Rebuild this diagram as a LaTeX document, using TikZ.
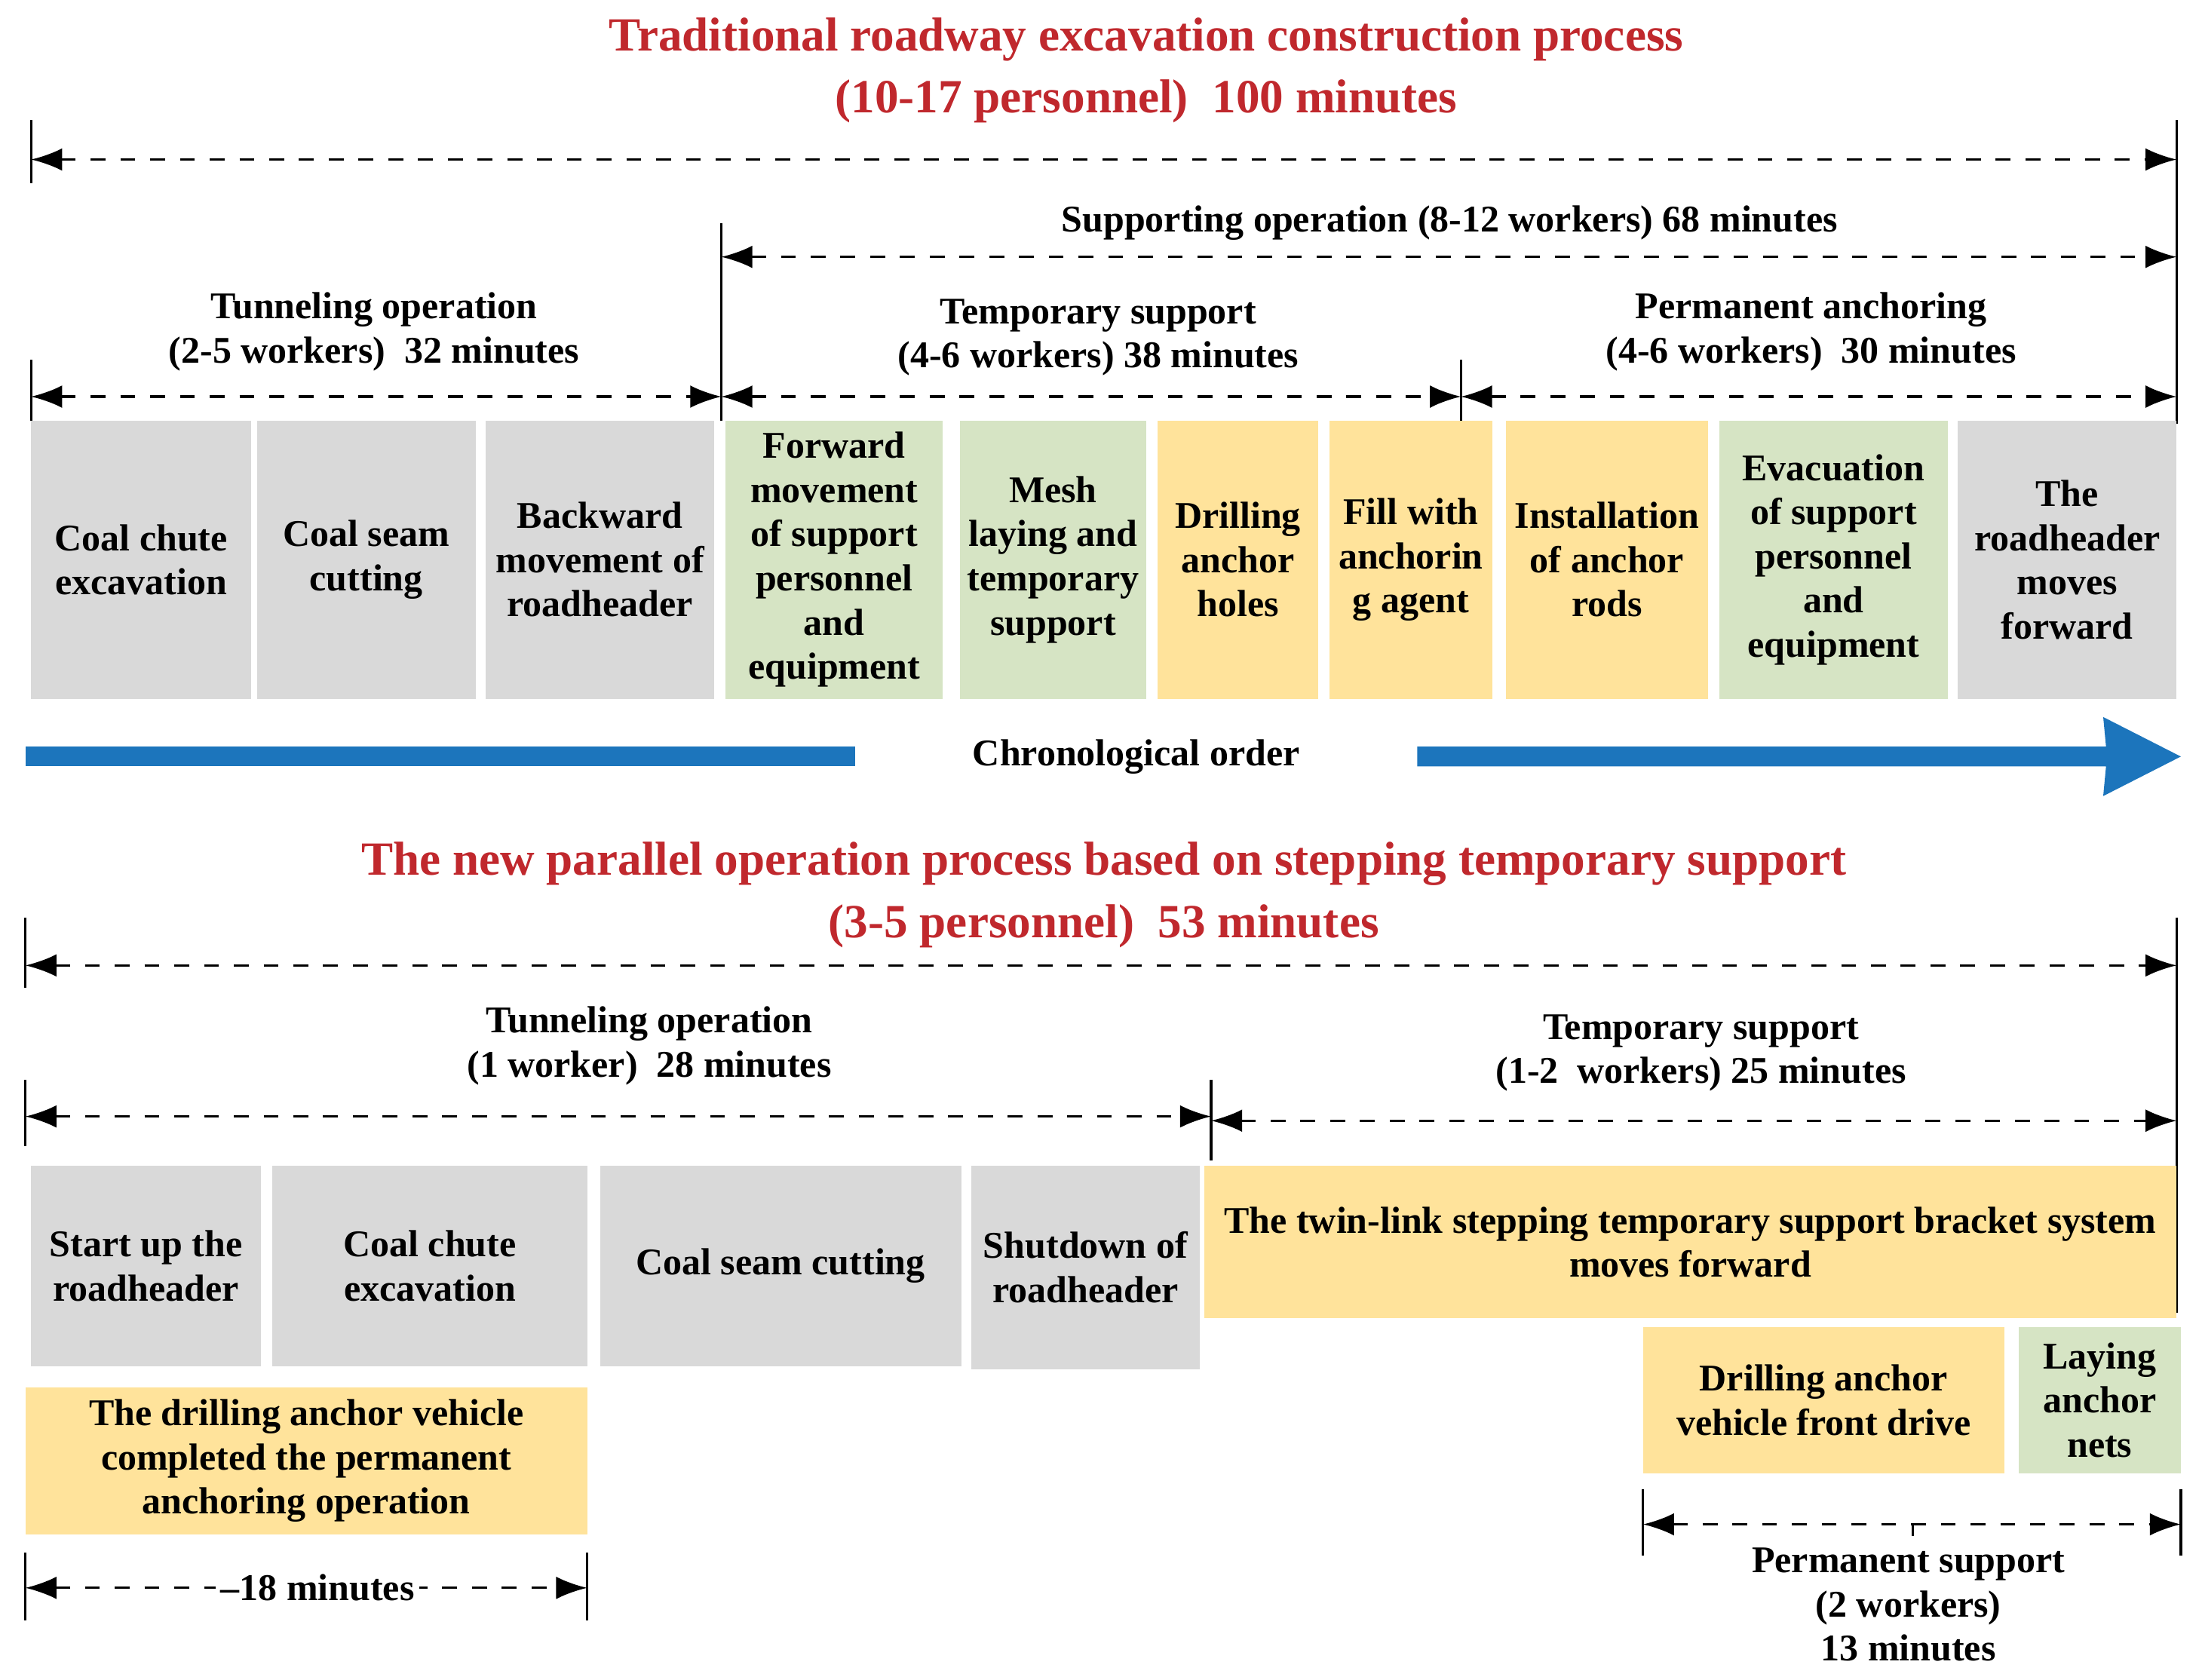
\documentclass[tikz,border=0pt]{standalone}
\usepackage{fontspec}
\setmainfont{Liberation Serif}
\usetikzlibrary{arrows.meta}
\definecolor{gr}{HTML}{D9D9D9}
\definecolor{gn}{HTML}{D6E4C4}
\definecolor{ye}{HTML}{FFE39B}
\definecolor{tr}{HTML}{C0282D}
\definecolor{bl}{HTML}{1C75BC}
\begin{document}
\begin{tikzpicture}[x=0.1mm,y=-0.1mm,
 txt/.style={font=\bfseries\fontsize{7.6}{8.9}\selectfont,align=center,inner sep=0},
 ttl/.style={font=\bfseries\fontsize{9.6}{11.5}\selectfont,align=center,text=tr,inner sep=0},
 box/.style={txt},
 dim/.style={dashed,line width=0.5pt,{Latex[length=2.2mm,width=1.6mm]}-{Latex[length=2.2mm,width=1.6mm]}},
 tick/.style={line width=0.5pt}]
\useasboundingbox (0,0) rectangle (1560,1190);
\newcommand{\bx}[6]{\fill[#5] (#1,#2) rectangle (#3,#4); \node[box] at ({(#1+#3)/2},{(#2+#4)/2}) {#6};}
% titles
\node[ttl] (t1) at (812,50) {Traditional roadway excavation construction process\\[1pt](10-17 personnel)\ \ 100 minutes};
% top arrow
\coordinate (a1) at (22,113); \coordinate (a2) at (1542,113);
\draw[dim] (a1) -- (a2);
\draw[tick] (22,85) -- (22,130); \draw[tick] (1542,85) -- (1542,300);
\node[txt] (so) at (1027,158) {Supporting operation (8-12 workers) 68 minutes};
\coordinate (s1) at (511,182); \coordinate (s2) at (1542,182);
\draw[dim] (s1) -- (s2);
\draw[tick] (511,158) -- (511,298);
\node[txt] (to) at (265,235) {Tunneling operation\\(2-5 workers)\ \ 32 minutes};
\node[txt] (ts) at (778,239) {Temporary support\\(4-6 workers) 38 minutes};
\node[txt] (pa) at (1283,235) {Permanent anchoring\\(4-6 workers)\ \ 30 minutes};
\coordinate (b1) at (22,281); \coordinate (b2) at (511,281); \coordinate (b3) at (1035,281); \coordinate (b4) at (1542,281);
\draw[dim] (b1) -- (b2); \draw[dim] (b2) -- (b3); \draw[dim] (b3) -- (b4);
\draw[tick] (22,255) -- (22,298); \draw[tick] (1035,255) -- (1035,298);
% boxes row 1
\bx{22}{298}{178}{495}{gr}{Coal chute\\excavation}
\bx{182}{298}{337}{495}{gr}{Coal seam\\cutting}
\bx{344}{298}{506}{495}{gr}{Backward\\movement of\\roadheader}
\bx{514}{298}{668}{495}{gn}{Forward\\movement\\of support\\personnel\\and\\equipment}
\bx{680}{298}{812}{495}{gn}{Mesh\\laying and\\temporary\\support}
\bx{820}{298}{934}{495}{ye}{Drilling\\anchor\\holes}
\bx{942}{298}{1057}{495}{ye}{Fill with\\anchorin\\g agent}
\bx{1067}{298}{1210}{495}{ye}{Installation\\of anchor\\rods}
\bx{1218}{298}{1380}{495}{gn}{Evacuation\\of support\\personnel\\and\\equipment}
\bx{1387}{298}{1542}{495}{gr}{The\\roadheader\\moves\\forward}
% chronological arrow
\fill[bl] (18,529) rectangle (606,543);
\fill[bl] (1004,529) -- (1492,529) -- (1490,508) -- (1545,536) -- (1490,564) -- (1492,543) -- (1004,543) -- cycle;
\node[txt] (co) at (805,536) {Chronological order};
% second title
\node[ttl] (t2) at (782,634) {The new parallel operation process based on stepping temporary support\\[1pt](3-5 personnel)\ \ 53 minutes};
\coordinate (c1) at (18,684); \coordinate (c2) at (1542,684);
\draw[dim] (c1) -- (c2);
\draw[tick] (18,650) -- (18,700); \draw[tick] (1542,650) -- (1542,930);
\node[txt] (to2) at (460,741) {Tunneling operation\\(1 worker)\ \ 28 minutes};
\node[txt] (ts2) at (1205,746) {Temporary support\\(1-2\ \ workers) 25 minutes};
\coordinate (d1) at (18,791); \coordinate (d2) at (858,791); \coordinate (d3) at (1542,794);
\draw[dim] (d1) -- (d2); \draw[dim] (858,794) -- (d3);
\draw[tick] (18,765) -- (18,812); \draw[tick] (858,765) -- (858,822);
\bx{22}{826}{185}{968}{gr}{Start up the\\roadheader}
\bx{193}{826}{416}{968}{gr}{Coal chute\\excavation}
\bx{425}{826}{681}{968}{gr}{Coal seam cutting}
\bx{688}{826}{850}{970}{gr}{Shutdown of\\roadheader}
\bx{853}{826}{1542}{934}{ye}{The twin-link stepping temporary support bracket system\\moves forward}
\bx{18}{983}{416}{1087}{ye}{The drilling anchor vehicle\\completed the permanent\\anchoring operation}
\bx{1164}{940}{1420}{1044}{ye}{Drilling anchor\\vehicle front drive}
\bx{1430}{940}{1545}{1044}{gn}{Laying\\anchor\\nets}
\coordinate (e1) at (18,1125); \coordinate (e2) at (416,1125);
\draw[dim] (e1) -- (e2);
\draw[tick] (18,1100) -- (18,1148); \draw[tick] (416,1100) -- (416,1148);
\node[txt,fill=white,inner sep=1pt] (m18) at (225,1125) {--18 minutes};
\coordinate (f1) at (1164,1080); \coordinate (f2) at (1545,1080);
\draw[dim] (f1) -- (f2);
\draw[tick] (1164,1055) -- (1164,1102); \draw[tick] (1545,1055) -- (1545,1102);
\draw[tick] (1355,1080) -- (1355,1088);
\node[txt] (ps) at (1352,1137) {Permanent support\\(2 workers)\\13 minutes};
\end{tikzpicture}
\end{document}
